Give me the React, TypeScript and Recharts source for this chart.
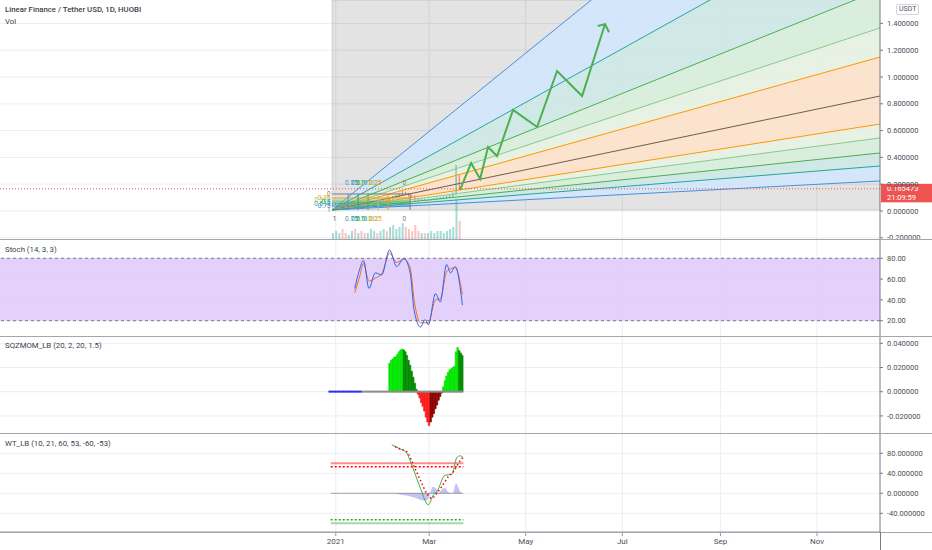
import React from 'react'
import {
  ComposedChart, Line, Area, Bar, Scatter, XAxis, YAxis, CartesianGrid,
  ReferenceLine, ReferenceArea, Cell,
} from 'recharts'

// x values are days counted from 1 Jan 2021
const xDomain: [number, number] = [-212.1, 343.8]
const monthDays = [0, 59, 120, 181, 243, 304]
const monthLabels = ['2021', 'Mar', 'May', 'Jul', 'Sep', 'Nov']

const priceTicks = [-0.2, 0, 0.2, 0.4, 0.6, 0.8, 1.0, 1.2, 1.4]
const stochTicks = [20, 40, 60, 80]
const sqzTicks = [-0.02, 0, 0.02, 0.04]
const wtTicks = [-40, 0, 40, 80]

// LINA/USDT daily candles (two-day steps)
const candleDays = [-2, 0, 2, 4, 6, 8, 10, 12, 14, 16, 18, 20, 22, 24, 26, 28, 30, 32, 34, 36, 38, 40, 42, 44, 46, 48, 50, 52, 54, 56, 58, 60, 62, 64, 66, 68, 70, 72, 74, 76, 78]
const candleOpen = [0.040, 0.045, 0.050, 0.055, 0.052, 0.050, 0.055, 0.060, 0.058, 0.063, 0.062, 0.060, 0.065, 0.070, 0.074, 0.072, 0.076, 0.080, 0.078, 0.090, 0.105, 0.110, 0.125, 0.140, 0.130, 0.115, 0.110, 0.085, 0.080, 0.084, 0.080, 0.083, 0.086, 0.090, 0.094, 0.098, 0.100, 0.105, 0.112, 0.130, 0.250]
const candleClose = [0.045, 0.050, 0.055, 0.052, 0.050, 0.055, 0.060, 0.058, 0.063, 0.062, 0.060, 0.065, 0.070, 0.074, 0.072, 0.076, 0.080, 0.078, 0.090, 0.105, 0.110, 0.125, 0.140, 0.130, 0.115, 0.110, 0.085, 0.080, 0.084, 0.080, 0.083, 0.086, 0.090, 0.094, 0.098, 0.100, 0.105, 0.112, 0.130, 0.250, 0.165]
const candleHigh = [0.050, 0.056, 0.060, 0.060, 0.057, 0.060, 0.065, 0.065, 0.068, 0.068, 0.066, 0.070, 0.075, 0.080, 0.079, 0.081, 0.086, 0.085, 0.096, 0.112, 0.118, 0.132, 0.148, 0.145, 0.135, 0.120, 0.115, 0.092, 0.090, 0.090, 0.088, 0.090, 0.095, 0.100, 0.104, 0.106, 0.112, 0.118, 0.138, 0.343, 0.270]
const candleLow = [0.035, 0.040, 0.045, 0.048, 0.046, 0.045, 0.050, 0.053, 0.053, 0.057, 0.055, 0.055, 0.060, 0.065, 0.066, 0.067, 0.070, 0.072, 0.073, 0.085, 0.100, 0.105, 0.118, 0.122, 0.108, 0.100, 0.070, 0.072, 0.075, 0.075, 0.074, 0.078, 0.082, 0.085, 0.088, 0.092, 0.095, 0.100, 0.105, 0.120, 0.160]
const candleVolume = [3, 4, 3, 5, 3, 2, 4, 5, 3, 4, 3, 3, 5, 4, 3, 4, 5, 4, 6, 7, 5, 6, 8, 6, 5, 4, 7, 4, 3, 3, 3, 4, 3, 4, 4, 3, 4, 5, 6, 20, 9]
const lastPrice = 0.165473
const lastTime = '21:09:59'

// fib speed resistance fan
const fanOriginDay = -2.3
const fanOriginPrice = 0.0075
const fanEndPrices = [3.32, 2.28, 1.65, 1.366, 1.149, 0.858, 0.649, 0.545, 0.433, 0.336, 0.224]
const fanBoxRight = 47
const fanBoxPrices = [0.037, 0.053, 0.067, 0.081, 0.097, 0.127]
const fanBoxDays = [7.8, 14.1, 20.4, 26.7, 33, 47]
const fanTimeLabels = ['0.75', '0.618', '0.5', '0.382', '0.25', '0']
const fanTimeLabelDays = [5.9, 9.7, 12.8, 16.6, 21, 42.2]
const fanPriceLabels = ['0', '0.25', '0.382', '0.5', '0.618', '0.75', '1']
const fanPriceLabelValues = [0.127, 0.097, 0.081, 0.067, 0.053, 0.037, 0.0075]

// projected path
const projDays = [78.5, 85.5, 91.2, 96.2, 101.9, 112, 127.2, 139.8, 155.6, 170.1]
const projPrices = [0.157, 0.358, 0.239, 0.478, 0.41, 0.754, 0.627, 1.045, 0.858, 1.395]
const arrowDays = [165.5, 170.1, 172.6]
const arrowPrices = [1.381, 1.395, 1.334]

// Stoch (14, 3, 3)
const stochDays = [12, 15, 17.5, 21, 25, 29, 34, 38.5, 43, 47, 49.5, 53.5, 56.5, 58.5, 63, 66, 70, 72.5, 75.5, 80]
const stochK = [51, 69, 78, 51, 66, 64, 88, 72, 80, 66, 30, 14, 21, 16, 46, 38, 74, 66, 72, 35]
const stochD = [47, 62, 75, 58, 61, 65, 85, 76, 79, 71, 40, 18, 18, 18, 40, 41, 67, 70, 71, 45]

// SQZMOM_LB
const sqzFirstDay = 34
const sqzValues = [
  0.0235, 0.026, 0.027, 0.0285, 0.029, 0.031, 0.033, 0.0345, 0.0353,
  0.0345, 0.033, 0.030, 0.026, 0.022, 0.017, 0.012, 0.007, 0.002,
  -0.002, -0.005, -0.009, -0.012, -0.016, -0.021, -0.025, -0.028,
  -0.025, -0.021, -0.018, -0.014, -0.011, -0.007, -0.004, -0.001,
  0.004, 0.009, 0.013, 0.016, 0.018, 0.019, 0.020, 0.021, 0.033, 0.0365,
  0.034, 0.032, 0.030,
]
const sqzDotFirstDay = -4
const sqzDotLastDay = 80
const sqzReleasedFromDay = 17

// WT_LB
const wt1Days = [35.4, 40, 44.5, 47, 50, 53.5, 58.5, 61.7, 63.8, 69, 73.3, 76.4, 78.5, 80.6]
const wt1 = [97, 90, 82, 65, 40, 10, -23, -3, 3, 36, 38, 71, 75, 71]
const wt2Days = [37.5, 41, 44.9, 49, 53.3, 57.5, 60.6, 64.8, 66.9, 71.1, 74.3, 77.5, 80.6]
const wt2 = [93, 88, 83, 57, 27, 0, -10, 4, 13, 33, 43, 60, 73]
const wtDiffDays = [38, 45, 51, 54, 56.4, 58.5, 59.6, 61.3, 63.4, 64.8, 66.3, 69, 71.1, 73.9, 76, 77.5, 79.6, 80.6]
const wtDiff = [-1, -5, -10, -14, -15, -11, 0, 13, 10, 0, 5, 11, 2, 0, 20, 11, 0, 0]
const wtLevelDays = [-3.2, 80.6]
const wtLevels = [60, 53, 0, -53, -60]

// styles
const W = 932
const AXIS_W = 52
const GRID = '#eceef3'
const FONT = 'Roboto, "Liberation Sans", sans-serif'
const BLUE = '#4a8fd8'
const TEAL = '#26a69a'
const GREEN = '#4caf50'
const LGREEN = '#8bc98e'
const ORANGE = '#ff9800'
const BROWN = '#6d5d55'
const fanLineColors = [BLUE, TEAL, GREEN, LGREEN, ORANGE, BROWN, ORANGE, LGREEN, GREEN, TEAL, BLUE]
const fanBandColors = ['#d2e6fb', '#cde9e5', '#d8eedb', '#e7f3e3', '#fde2cb', '#fde2cb', '#e7f3e3', '#d8eedb', '#cde9e5', '#d2e6fb']
const fanLabelColors = [BLUE, TEAL, GREEN, LGREEN, ORANGE, '#787b86']
const wtLevelStyles = [
  { stroke: '#ff0000', opacity: 0.45, width: 2, dash: undefined },
  { stroke: '#ff0000', opacity: 1, width: 1.5, dash: '2 2' },
  { stroke: '#808080', opacity: 0.7, width: 1, dash: undefined },
  { stroke: '#1fa51f', opacity: 1, width: 1.5, dash: '2 2' },
  { stroke: '#4caf50', opacity: 0.5, width: 2, dash: undefined },
]

const margin = { top: 0, right: 0, bottom: 0, left: 0 }
const axisTick = { fontSize: 7.5, fill: '#4c4f57', fontFamily: FONT }
const rightAxis = {
  orientation: 'right' as const,
  width: AXIS_W,
  allowDataOverflow: true,
  interval: 0 as const,
  tick: axisTick,
  tickSize: 3,
  tickMargin: 4,
  axisLine: { stroke: '#787b86' },
  tickLine: { stroke: '#787b86' },
}

const candles = candleDays.map((day, i) => ({
  day, o: candleOpen[i], h: candleHigh[i], l: candleLow[i], c: candleClose[i], vol: candleVolume[i],
}))
const ray = (end: number) => [
  { day: fanOriginDay, v: fanOriginPrice },
  { day: xDomain[1], v: end },
]
const band = (lo: number, hi: number) => [
  { day: fanOriginDay, r: [fanOriginPrice, fanOriginPrice] },
  { day: xDomain[1], r: [lo, hi] },
]
const projection = projDays.map((day, i) => ({ day, v: projPrices[i] }))
const arrow = arrowDays.map((day, i) => ({ day, v: arrowPrices[i] }))
const stoch = stochDays.map((day, i) => ({ day, k: stochK[i], d: stochD[i] }))
const sqz = sqzValues.map((v, i) => ({ day: sqzFirstDay + i, v }))
const sqzDots: { day: number; v: number }[] = []
for (let d = sqzDotFirstDay; d <= sqzDotLastDay; d++) sqzDots.push({ day: d, v: 0 })
const wtA = wt1Days.map((day, i) => ({ day, v: wt1[i] }))
const wtB = wt2Days.map((day, i) => ({ day, v: wt2[i] }))
const wtD = wtDiffDays.map((day, i) => ({ day, v: wtDiff[i] }))

function sqzColor(i: number) {
  const v = sqzValues[i]
  const prev = i > 0 ? sqzValues[i - 1] : 0
  if (v >= 0) return v >= prev ? '#00e600' : '#008a00'
  return v <= prev ? '#ff1a1a' : '#8b0000'
}

function renderCandle(props: any) {
  const { x, y, width, height, payload } = props
  const { o, h, l, c } = payload
  const color = c >= o ? '#26a69a' : '#ef5350'
  const top = Math.min(y, y + height)
  const hgt = Math.abs(height)
  const py = (v: number) => top + ((h - v) / (h - l)) * hgt
  const cx = x + width / 2
  const bTop = py(Math.max(o, c))
  const bBot = py(Math.min(o, c))
  return (
    <g>
      <line x1={cx} x2={cx} y1={top} y2={top + hgt} stroke={color} strokeWidth={0.8} />
      <rect x={x} y={bTop} width={width} height={Math.max(1, bBot - bTop)} fill={color} />
    </g>
  )
}

function renderPriceTag(props: any) {
  const vb = props.viewBox
  const x = vb.x + vb.width + 1
  const y = vb.y
  return (
    <g>
      <rect x={x} y={y - 5} width={AXIS_W} height={18.5} fill="#ef5350" />
      <text x={x + 6} y={y + 0.5} fill="#fff" fontSize={7.5} fontFamily={FONT} dominantBaseline="middle">
        {lastPrice.toFixed(6)}
      </text>
      <text x={x + 6} y={y + 9.5} fill="#fff" fontSize={7.5} fontFamily={FONT} dominantBaseline="middle">
        {lastTime}
      </text>
    </g>
  )
}

const textShape = (anchor: 'start' | 'end') => (props: any) => (
  <text x={props.cx} y={props.cy} fill={props.payload.color} fontSize={6.5} fontFamily={FONT}
    textAnchor={anchor} dominantBaseline="middle">{props.payload.t}</text>
)

function MainPane() {
  const topLabels = fanTimeLabels.map((t, i) => ({ day: fanTimeLabelDays[i], v: 0.209, t, color: fanLabelColors[i] }))
  const bottomLabels = [{ day: -1.9, v: -0.06, t: '1', color: '#555' }].concat(
    fanTimeLabels.map((t, i) => ({ day: fanTimeLabelDays[i], v: -0.06, t, color: fanLabelColors[i] })))
  const leftLabels = fanPriceLabels.map((t, i) => ({
    day: fanOriginDay - 1, v: fanPriceLabelValues[i], t,
    color: i === 0 || i === 6 ? '#787b86' : fanLabelColors[5 - i],
  }))
  return (
    <ComposedChart width={W} height={239} margin={margin} data={candles}>
      <CartesianGrid stroke={GRID} horizontalValues={priceTicks} verticalValues={monthDays} />
      <XAxis type="number" dataKey="day" domain={xDomain} allowDataOverflow hide />
      <XAxis xAxisId="vol" type="number" dataKey="day" domain={xDomain} allowDataOverflow hide />
      <YAxis {...rightAxis} domain={[-0.209, 1.5746]} ticks={priceTicks} tickFormatter={(v: number) => v.toFixed(6)} />
      <YAxis yAxisId="vol" domain={[0, 120]} hide />
      <ReferenceArea x1={fanOriginDay} x2={xDomain[1]} y1={fanOriginPrice} y2={1.5746}
        fill="#000" fillOpacity={0.11} stroke="#b9b9b9" strokeOpacity={0.6} ifOverflow="hidden" />
      {fanBandColors.map((color, i) => (
        <Area key={'b' + i} data={band(fanEndPrices[i + 1], fanEndPrices[i])} dataKey="r" type="linear"
          stroke="none" fill={color} fillOpacity={0.9} dot={false} activeDot={false} isAnimationActive={false} />
      ))}
      {fanEndPrices.map((end, i) => (
        <Line key={'r' + i} data={ray(end)} dataKey="v" type="linear" stroke={fanLineColors[i]}
          strokeWidth={1} dot={false} activeDot={false} isAnimationActive={false} />
      ))}
      {fanBoxPrices.map((p, i) => (
        <Line key={'h' + i} data={[{ day: fanOriginDay, v: p }, { day: fanBoxRight, v: p }]} dataKey="v"
          stroke={fanLabelColors[i]} strokeWidth={1} dot={false} activeDot={false} isAnimationActive={false} />
      ))}
      {fanBoxDays.map((d, i) => (
        <Line key={'vl' + i} data={[{ day: d, v: fanOriginPrice }, { day: d, v: fanBoxPrices[5] }]} dataKey="v"
          stroke={fanLabelColors[i]} strokeWidth={1} dot={false} activeDot={false} isAnimationActive={false} />
      ))}
      <Bar xAxisId="vol" yAxisId="vol" dataKey="vol" barSize={2} isAnimationActive={false}>
        {candles.map((c, i) => (
          <Cell key={i} fill={c.c >= c.o ? 'rgba(38,166,154,0.4)' : 'rgba(239,83,80,0.35)'} />
        ))}
      </Bar>
      <Bar dataKey={(d: any) => [d.l, d.h]} barSize={2} shape={renderCandle} isAnimationActive={false} />
      <Line data={projection} dataKey="v" type="linear" stroke={GREEN} strokeWidth={2} dot={false} activeDot={false} isAnimationActive={false} />
      <Line data={arrow} dataKey="v" type="linear" stroke={GREEN} strokeWidth={2} dot={false} activeDot={false} isAnimationActive={false} />
      <ReferenceLine y={lastPrice} stroke="#ef5350" strokeDasharray="1 2" label={renderPriceTag} />
      <Scatter data={topLabels} dataKey="v" shape={textShape('start')} isAnimationActive={false} />
      <Scatter data={bottomLabels} dataKey="v" shape={textShape('start')} isAnimationActive={false} />
      <Scatter data={leftLabels} dataKey="v" shape={textShape('end')} isAnimationActive={false} />
    </ComposedChart>
  )
}

function StochPane() {
  return (
    <ComposedChart width={W} height={96} margin={margin}>
      <CartesianGrid stroke={GRID} horizontalValues={stochTicks} verticalValues={monthDays} />
      <XAxis type="number" dataKey="day" domain={xDomain} allowDataOverflow hide />
      <YAxis {...rightAxis} domain={[5.3, 97.6]} ticks={stochTicks} tickFormatter={(v: number) => v.toFixed(2)} />
      <ReferenceArea y1={20} y2={80} fill="#ddc6fa" fillOpacity={0.8} stroke="none" />
      <ReferenceLine y={80} stroke="#787b86" strokeDasharray="3 3" />
      <ReferenceLine y={20} stroke="#787b86" strokeDasharray="3 3" />
      <Line data={stoch} dataKey="d" type="monotone" stroke="#ff6d00" strokeWidth={1} dot={false} activeDot={false} isAnimationActive={false} />
      <Line data={stoch} dataKey="k" type="monotone" stroke="#2962ff" strokeWidth={1} dot={false} activeDot={false} isAnimationActive={false} />
    </ComposedChart>
  )
}

function SqzPane() {
  return (
    <ComposedChart width={W} height={96} margin={margin} data={sqz}>
      <CartesianGrid stroke={GRID} horizontalValues={sqzTicks} verticalValues={monthDays} />
      <XAxis type="number" dataKey="day" domain={xDomain} allowDataOverflow hide />
      <YAxis {...rightAxis} domain={[-0.0341, 0.0452]} ticks={sqzTicks} tickFormatter={(v: number) => v.toFixed(6)} />
      <Bar dataKey="v" barSize={3} isAnimationActive={false}>
        {sqz.map((_, i) => <Cell key={i} fill={sqzColor(i)} stroke={sqzColor(i)} strokeWidth={0.7} />)}
      </Bar>
      <Scatter data={sqzDots} dataKey="v" isAnimationActive={false}
        shape={(p: any) => (
          <circle cx={p.cx} cy={p.cy} r={1.1}
            fill={p.payload.day < sqzReleasedFromDay ? '#2a2af5' : '#8c8c8c'} />
        )} />
    </ComposedChart>
  )
}

function WtPane() {
  return (
    <ComposedChart width={W} height={116} margin={margin}>
      <CartesianGrid stroke={GRID} horizontalValues={wtTicks} verticalValues={monthDays} />
      <XAxis type="number" dataKey="day" domain={xDomain} allowDataOverflow ticks={monthDays} interval={0}
        height={18} tickSize={4} tickMargin={2} axisLine={{ stroke: '#9598a1' }} tickLine={{ stroke: '#9598a1' }}
        tick={{ fontSize: 8, fill: '#4c4f57', fontFamily: FONT }}
        tickFormatter={(v: number) => monthLabels[monthDays.indexOf(v)]} />
      <YAxis {...rightAxis} domain={[-77.4, 118.6]} ticks={wtTicks} tickFormatter={(v: number) => v.toFixed(6)} />
      {wtLevels.map((lv, i) => (
        <Line key={'lv' + i} data={wtLevelDays.map((day) => ({ day, v: lv }))} dataKey="v"
          stroke={wtLevelStyles[i].stroke} strokeOpacity={wtLevelStyles[i].opacity}
          strokeWidth={wtLevelStyles[i].width} strokeDasharray={wtLevelStyles[i].dash}
          dot={false} activeDot={false} isAnimationActive={false} />
      ))}
      <Area data={wtD} dataKey="v" type="monotone" stroke="none" fill="#7b7be8" fillOpacity={0.45}
        baseValue={0} dot={false} activeDot={false} isAnimationActive={false} />
      <Line data={wtA} dataKey="v" type="monotone" stroke="#3fae4a" strokeWidth={1} dot={false} activeDot={false} isAnimationActive={false} />
      <Line data={wtB} dataKey="v" type="monotone" stroke="#ff0000" strokeWidth={1.5} strokeDasharray="1.5 2.5"
        dot={false} activeDot={false} isAnimationActive={false} />
    </ComposedChart>
  )
}

const label = (top: number, text: string, bold = false) => (
  <div style={{
    position: 'absolute', left: 5, top, fontSize: 7.8, lineHeight: '10px', color: '#3c3f47',
    fontWeight: bold ? 500 : 400, fontFamily: FONT, whiteSpace: 'nowrap',
  }}>{text}</div>
)
const hline = (top: number) => (
  <div style={{ position: 'absolute', left: 0, top, width: W, height: 1, background: '#a3a6af' }} />
)

export default function App() {
  return (
    <div style={{ position: 'relative', width: W, height: 550, background: '#fff', overflow: 'hidden' }}>
      <style>{'body{margin:0}'}</style>
      <div style={{ position: 'absolute', left: 0, top: 0 }}><MainPane /></div>
      <div style={{ position: 'absolute', left: 0, top: 240 }}><StochPane /></div>
      <div style={{ position: 'absolute', left: 0, top: 337 }}><SqzPane /></div>
      <div style={{ position: 'absolute', left: 0, top: 434 }}><WtPane /></div>
      {hline(239)}
      {hline(336)}
      {hline(433)}
      {hline(531.5)}
      <div style={{ position: 'absolute', left: 880, top: 532, width: 1, height: 18, background: '#787b86' }} />
      {label(5, 'Linear Finance / Tether USD, 1D, HUOBI', true)}
      {label(17, 'Vol')}
      {label(245, 'Stoch (14, 3, 3)')}
      {label(341, 'SQZMOM_LB (20, 2, 20, 1.5)')}
      {label(439, 'WT_LB (10, 21, 60, 53, -60, -53)')}
      <div style={{
        position: 'absolute', left: 896, top: 4, padding: '0 2px', border: '1px solid #d1d4dc', borderRadius: 2,
        fontSize: 7, lineHeight: '9px', color: '#50535e', fontFamily: FONT, background: '#fff',
      }}>USDT</div>
    </div>
  )
}
